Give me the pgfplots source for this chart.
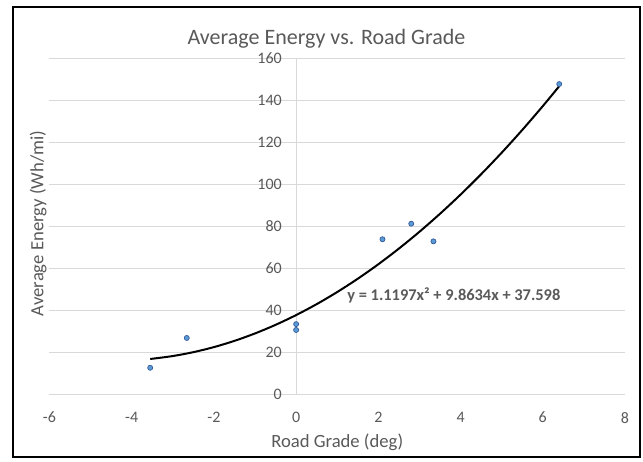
\documentclass[border=0pt]{standalone}
\usepackage{pgfplots}
\pgfplotsset{compat=1.18}
\usepackage{fontspec}
\setmainfont{Carlito}
\definecolor{txt}{RGB}{89,89,89}
\definecolor{grid}{RGB}{217,217,217}
\definecolor{dotfill}{RGB}{91,155,213}
\definecolor{dotline}{RGB}{47,85,151}
\begin{document}
\begin{tikzpicture}
\begin{axis}[
    at={(0,0)}, anchor=south west,
    scale only axis,
    width=431.6pt, height=252pt,
    xmin=-6, xmax=8, ymin=0, ymax=160,
    xtick={-6,-4,...,8},
    ytick={0,20,...,160},
    axis x line=bottom,
    axis y line=center,
    axis line style={draw=grid, line width=0.75pt, -},
    hide obscured x ticks=false,
    hide obscured y ticks=false,
    major tick length=0pt,
    ymajorgrids,
    grid style={draw=grid, line width=0.75pt},
    /pgf/number format/assume math mode=true,
    ticklabel style={font=\fontsize{12}{14}\selectfont, text=txt},
    xticklabel style={yshift=-10pt},
    yticklabel style={xshift=-7.25pt},
    clip=false,
]
% trendline (poly order 2), values read off the chart's equation
\addplot[black, line width=1.5pt, smooth] coordinates {
    (-3.55,16.69)(-3,18.09)(-2.5,19.94)(-2,22.35)(-1.5,25.32)(-1,28.86)(-0.5,32.95)
    (0,37.60)(0.5,42.81)(1,48.58)(1.5,54.91)(2,61.80)(2.5,69.26)(3,77.27)(3.5,85.84)
    (4,94.97)(4.5,104.66)(5,114.91)(5.5,125.72)(6,137.09)(6.4,146.59)
};
\addplot[only marks, mark=*, mark size=1.9pt,
    mark options={fill=dotfill, draw=dotline, line width=0.5pt}] coordinates {
    (-3.55,12.5)(-2.66,26.7)(0,33.3)(0,30.5)(2.10,73.7)(2.80,81.1)(3.34,72.7)(6.40,147.6)
};
\node[anchor=west, inner sep=0pt, text=txt, font=\fontsize{12.3}{14}\selectfont\bfseries]
    at (axis cs:1.24,47.1) {y = 1.1197x² + 9.8634x + 37.598};
\end{axis}
% chart frame, title and axis titles
\useasboundingbox (-37.1pt,-50.25pt) rectangle (445.1pt,295.5pt);
\draw[black, line width=1.5pt] (-27.4pt,-47.25pt) rectangle (442.9pt,290.25pt);
\node[anchor=base, inner sep=0pt, text=txt, font=\fontsize{16.5}{19}\selectfont]
    at (207.75pt,262.3pt) {Average Energy vs. Road Grade};
\node[anchor=base, inner sep=0pt, text=txt, font=\fontsize{14}{16}\selectfont]
    at (215.8pt,-39.75pt) {Road Grade (deg)};
\node[anchor=base, inner sep=0pt, text=txt, font=\fontsize{14}{16}\selectfont, rotate=90]
    at (-4.5pt,127.9pt) {Average Energy (Wh/mi)};
\end{tikzpicture}
\end{document}
